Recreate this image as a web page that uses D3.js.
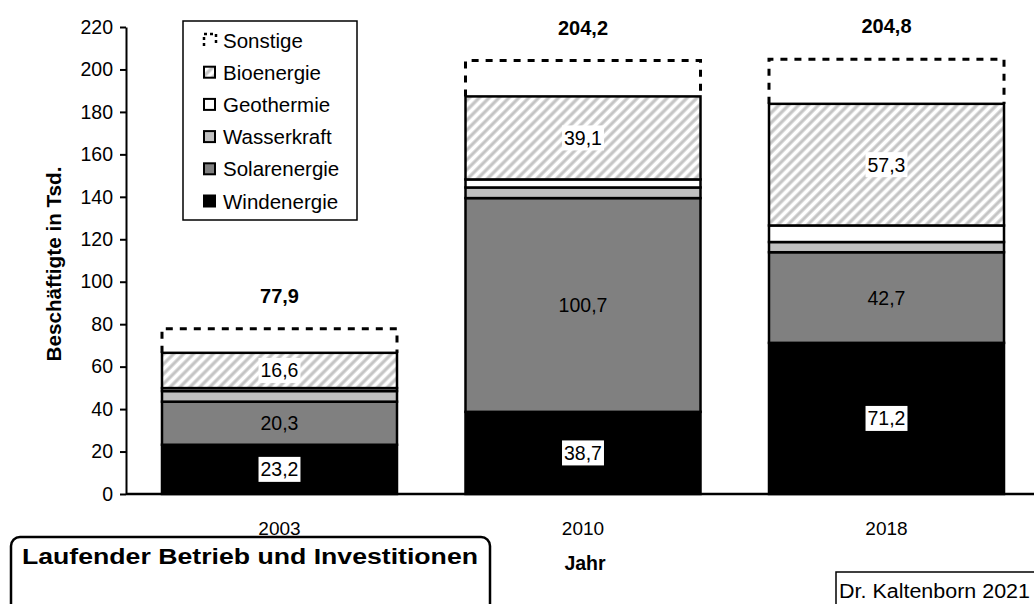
<!DOCTYPE html>
<html>
<head>
<meta charset="utf-8">
<script src="https://cdn.jsdelivr.net/npm/d3@7"></script>
<style>
  html, body { margin: 0; padding: 0; background: #fff; }
  svg { display: block; font-family: "Liberation Sans", Arial, sans-serif; }
</style>
</head>
<body>
<svg id="chart" width="1034" height="604"></svg>
<script>
// Beschäftigte in den erneuerbaren Energien (Tsd.)
const years = ["2003", "2010", "2018"];
const windenergie = [23.2, 38.7, 71.2];
const solarenergie = [20.3, 100.7, 42.7];
const wasserkraft = [5.0, 5.0, 4.8];
const geothermie = [1.4, 3.8, 7.8];
const bioenergie = [16.6, 39.1, 57.3];
const gesamt = [77.9, 204.2, 204.8];
const yTicks = [0, 20, 40, 60, 80, 100, 120, 140, 160, 180, 200, 220];

const keys = ["Windenergie", "Solarenergie", "Wasserkraft", "Geothermie", "Bioenergie", "Sonstige"];
const series = {
  Windenergie: windenergie,
  Solarenergie: solarenergie,
  Wasserkraft: wasserkraft,
  Geothermie: geothermie,
  Bioenergie: bioenergie
};

// rows for d3.stack; "Sonstige" is the remainder up to the total
const rows = years.map((y, i) => {
  const r = { year: y, total: gesamt[i] };
  let sum = 0;
  keys.slice(0, 5).forEach(k => { r[k] = series[k][i]; sum += series[k][i]; });
  r.Sonstige = +(gesamt[i] - sum).toFixed(1);
  return r;
});

const svg = d3.select("#chart");
const defs = svg.append("defs");
const hatch = defs.append("pattern")
  .attr("id", "hatch").attr("patternUnits", "userSpaceOnUse")
  .attr("width", 7).attr("height", 7)
  .attr("patternTransform", "rotate(45)");
hatch.append("rect").attr("width", 7).attr("height", 7).attr("fill", "#fff");
hatch.append("line").attr("x1", 2).attr("y1", 0).attr("x2", 2).attr("y2", 7)
  .attr("stroke", "#c4c4c4").attr("stroke-width", 3.2);

const fills = {
  Windenergie: "#000000",
  Solarenergie: "#808080",
  Wasserkraft: "#c0c0c0",
  Geothermie: "#ffffff",
  Bioenergie: "url(#hatch)"
};

const x = d3.scaleBand().domain(years).range([126, 1040])
  .paddingInner(0.2257).paddingOuter(0.1186);
const y = d3.scaleLinear().domain([0, 220]).range([494, 27]);

const stacked = d3.stack().keys(keys)(rows);

// dashed outline for "Sonstige" (top and sides only)
const sonst = stacked.find(s => s.key === "Sonstige");
svg.append("g").selectAll("path").data(sonst).join("path")
  .attr("d", d => {
    const x0 = x(d.data.year), x1 = x0 + x.bandwidth();
    return `M${x0},${y(d[0])}V${y(d[1])}H${x1}V${y(d[0])}`;
  })
  .attr("fill", "none").attr("stroke", "#000")
  .attr("stroke-width", 3).attr("stroke-dasharray", "7,7");

// solid segments
stacked.filter(s => s.key !== "Sonstige").forEach(s => {
  svg.append("g").selectAll("rect").data(s).join("rect")
    .attr("x", d => x(d.data.year))
    .attr("width", x.bandwidth())
    .attr("y", d => y(d[1]))
    .attr("height", d => y(d[0]) - y(d[1]))
    .attr("fill", fills[s.key])
    .attr("stroke", "#000").attr("stroke-width", 2.5);
});

// value labels inside segments
const labelled = [
  { key: "Windenergie", box: true },
  { key: "Solarenergie", box: false },
  { key: "Bioenergie", box: true }
];
const fmt = v => v.toFixed(1).replace(".", ",");
labelled.forEach(l => {
  const s = stacked.find(t => t.key === l.key);
  s.forEach(d => {
    const cx = x(d.data.year) + x.bandwidth() / 2;
    const cy = (y(d[0]) + y(d[1])) / 2;
    const g = svg.append("g");
    const t = g.append("text").attr("x", cx).attr("y", cy + 7)
      .attr("text-anchor", "middle").attr("font-size", 19.5).attr("fill", "#000")
      .text(fmt(d.data[l.key]));
    if (l.box) {
      const b = t.node().getBBox();
      g.insert("rect", "text").attr("x", b.x - 2).attr("y", cy - 12.5)
        .attr("width", b.width + 4).attr("height", 25).attr("fill", "#fff");
    }
  });
});

// totals above bars
svg.append("g").selectAll("text").data(rows).join("text")
  .attr("x", d => x(d.year) + x.bandwidth() / 2)
  .attr("y", d => y(d.total) - 26)
  .attr("text-anchor", "middle").attr("font-size", 20).attr("font-weight", "bold")
  .text(d => fmt(d.total));

// y axis
const yAxis = svg.append("g").attr("transform", "translate(126,0)")
  .call(d3.axisLeft(y).tickValues(yTicks).tickSize(6).tickSizeOuter(0).tickPadding(7));
yAxis.select(".domain").attr("stroke-width", 2);
yAxis.selectAll(".tick line").attr("stroke-width", 2);
yAxis.selectAll(".tick text").attr("font-size", 19.5).attr("fill", "#000")
  .attr("font-family", "Liberation Sans, Arial, sans-serif");

// x axis
svg.append("line").attr("x1", 126).attr("x2", 1034).attr("y1", 494).attr("y2", 494)
  .attr("stroke", "#000").attr("stroke-width", 2.5);
svg.append("g").selectAll("text").data(years).join("text")
  .attr("x", d => x(d) + x.bandwidth() / 2).attr("y", 535)
  .attr("text-anchor", "middle").attr("font-size", 19).text(d => d);

// axis titles
svg.append("text").attr("x", 585).attr("y", 570).attr("text-anchor", "middle")
  .attr("font-size", 19.5).attr("font-weight", "bold").text("Jahr");
svg.append("text").attr("transform", "translate(61,264) rotate(-90)")
  .attr("text-anchor", "middle").attr("font-size", 20).attr("font-weight", "bold")
  .attr("textLength", 195).attr("lengthAdjust", "spacingAndGlyphs")
  .text("Beschäftigte in Tsd.");

// legend
const legendKeys = ["Sonstige", "Bioenergie", "Geothermie", "Wasserkraft", "Solarenergie", "Windenergie"];
const lg = svg.append("g");
lg.append("rect").attr("x", 183).attr("y", 21).attr("width", 174).attr("height", 199)
  .attr("fill", "#fff").attr("stroke", "#000").attr("stroke-width", 1.5);
legendKeys.forEach((k, i) => {
  const cy = 40 + i * 32.2;
  if (k === "Sonstige") {
    lg.append("path").attr("d", `M204,${cy + 6}V${cy - 6}H216V${cy + 6}`)
      .attr("fill", "none").attr("stroke", "#000").attr("stroke-width", 2.5)
      .attr("stroke-dasharray", "3,3");
  } else {
    lg.append("rect").attr("x", 204).attr("y", cy - 5.5).attr("width", 11).attr("height", 11)
      .attr("fill", fills[k]).attr("stroke", "#000").attr("stroke-width", 2);
  }
  lg.append("text").attr("x", 223).attr("y", cy + 7.5).attr("font-size", 20.5).text(k);
});

// caption boxes
svg.append("rect").attr("x", 11).attr("y", 537).attr("width", 479).attr("height", 100)
  .attr("rx", 9).attr("fill", "#fff").attr("stroke", "#000").attr("stroke-width", 2.5);
svg.append("text").attr("x", 22).attr("y", 564)
  .attr("font-size", 22.5).attr("font-weight", "bold")
  .attr("textLength", 456).attr("lengthAdjust", "spacingAndGlyphs")
  .text("Laufender Betrieb und Investitionen");

svg.append("rect").attr("x", 836).attr("y", 572).attr("width", 220).attr("height", 60)
  .attr("fill", "#fff").attr("stroke", "#000").attr("stroke-width", 1.5);
svg.append("text").attr("x", 839).attr("y", 598).attr("font-size", 20)
  .attr("textLength", 191).attr("lengthAdjust", "spacingAndGlyphs")
  .text("Dr. Kaltenborn 2021");
</script>
</body>
</html>
